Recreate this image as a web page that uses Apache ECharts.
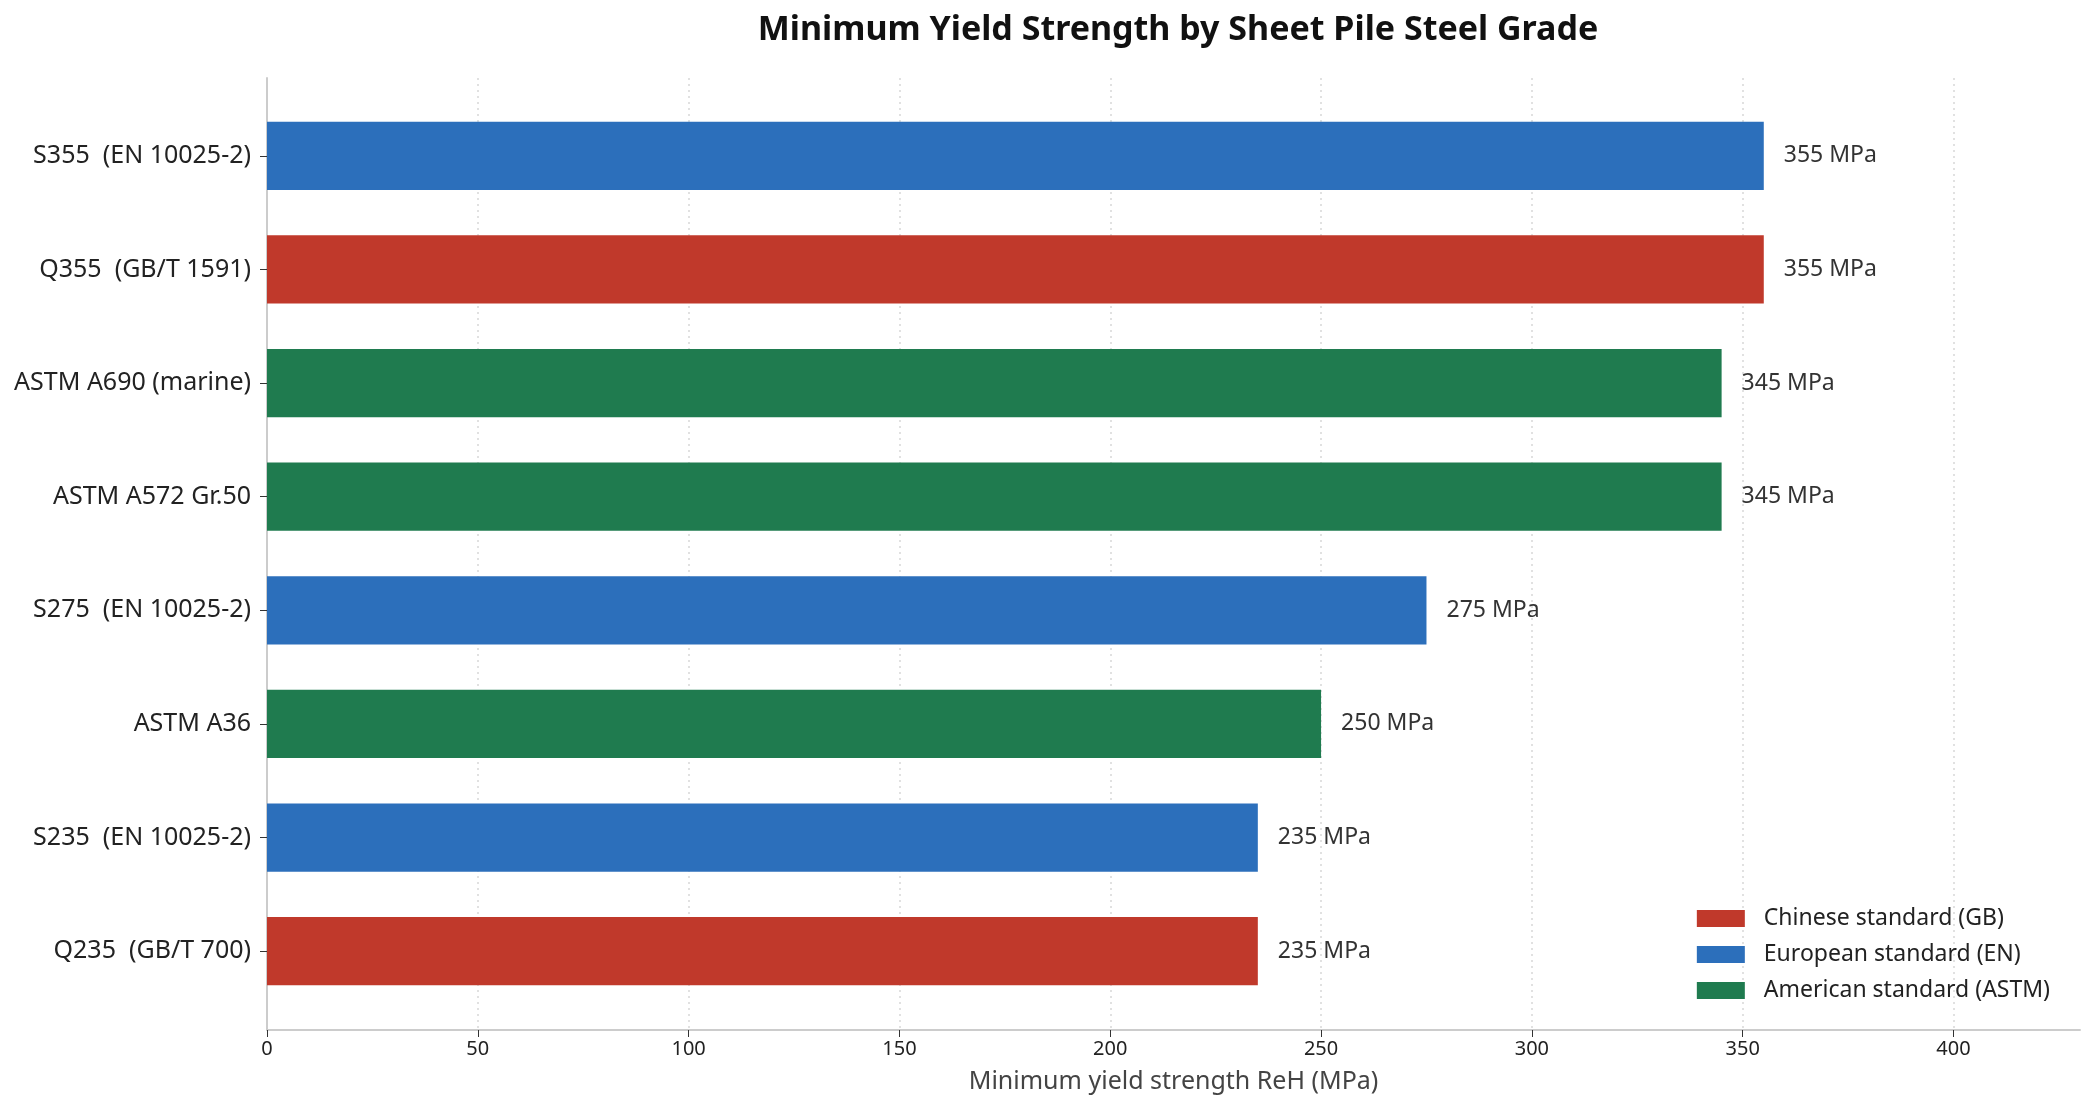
<!DOCTYPE html>
<html>
<head>
<meta charset="utf-8">
<script src="https://cdn.jsdelivr.net/npm/echarts@6/dist/echarts.min.js"></script>
<style>
html,body{margin:0;padding:0;background:#fff;}
#chart{width:2085px;height:1110px;}
</style>
</head>
<body>
<div id="chart"></div>
<script>
const categories = ['S355  (EN 10025-2)', 'Q355  (GB/T 1591)', 'ASTM A690 (marine)', 'ASTM A572 Gr.50', 'S275  (EN 10025-2)', 'ASTM A36', 'S235  (EN 10025-2)', 'Q235  (GB/T 700)'];
const yieldValues = [355, 355, 345, 345, 275, 250, 235, 235];
const standards = ['EN', 'GB', 'ASTM', 'ASTM', 'EN', 'ASTM', 'EN', 'GB'];
const seriesNames = {GB: 'Chinese standard (GB)', EN: 'European standard (EN)', ASTM: 'American standard (ASTM)'};
const seriesColors = {GB: '#C0392B', EN: '#2C6FBB', ASTM: '#1F7B4F'};
const xTicks = [0, 50, 100, 150, 200, 250, 300, 350, 400];

const FONT = 'Noto Sans';
const chart = echarts.init(document.getElementById('chart'));

function seriesFor(std) {
  return {
    name: seriesNames[std],
    type: 'bar',
    xAxisIndex: 0, yAxisIndex: 0,
    stack: 'all',
    barWidth: '60%',
    itemStyle: {color: seriesColors[std]},
    label: {
      show: true, position: 'right', distance: 20,
      formatter: p => p.value + ' MPa',
      color: '#333', fontSize: 23, fontFamily: FONT
    },
    data: yieldValues.map((v, i) => standards[i] === std ? v : '-')
  };
}

chart.setOption({
  animation: false,
  backgroundColor: '#fff',
  title: {
    text: 'Minimum Yield Strength by Sheet Pile Steel Grade',
    left: 1173, top: 8, textAlign: 'center',
    textStyle: {fontFamily: FONT, fontSize: 34, fontWeight: 'bold', color: '#111'}
  },
  legend: {
    orient: 'vertical', right: 30, bottom: 103,
    itemWidth: 48, itemHeight: 17, itemGap: 13,
    textStyle: {fontFamily: FONT, fontSize: 23, color: '#222', padding: [0, 0, 0, 14]},
    icon: 'rect',
    data: [seriesNames.GB, seriesNames.EN, seriesNames.ASTM]
  },
  grid: [
    {left: 267, right: 5, top: 99, height: 909},
    {left: 267, right: 5, top: 78, bottom: 80}
  ],
  xAxis: [
    {type: 'value', gridIndex: 0, min: 0, max: 430, show: false},
    {
      type: 'value', gridIndex: 1, min: 0, max: 430, interval: 50,
      name: 'Minimum yield strength ReH (MPa)', nameLocation: 'middle', nameGap: 39,
      nameTextStyle: {fontFamily: FONT, fontSize: 25, color: '#444'},
      axisLine: {show: true, lineStyle: {color: '#cccccc', width: 2}},
      axisTick: {show: true, length: 7, lineStyle: {color: '#333'}, customValues: xTicks},
      axisLabel: {fontFamily: FONT, fontSize: 20, color: '#222', margin: 9, customValues: xTicks},
      splitLine: {show: true, lineStyle: {color: '#d8d8d8', type: [2, 4], width: 1.5}}
    }
  ],
  yAxis: [
    {
      type: 'category', gridIndex: 0, data: categories, inverse: true,
      axisLine: {show: false},
      axisTick: {show: true, alignWithLabel: true, length: 7, lineStyle: {color: '#333'}},
      axisLabel: {fontFamily: FONT, fontSize: 25, color: '#222', margin: 16}
    },
    {
      type: 'value', gridIndex: 1, min: 0, max: 1,
      axisLine: {show: true, lineStyle: {color: '#cccccc', width: 2}},
      axisTick: {show: false}, axisLabel: {show: false}, splitLine: {show: false}
    }
  ],
  series: [seriesFor('GB'), seriesFor('EN'), seriesFor('ASTM')]
});
</script>
</body>
</html>
